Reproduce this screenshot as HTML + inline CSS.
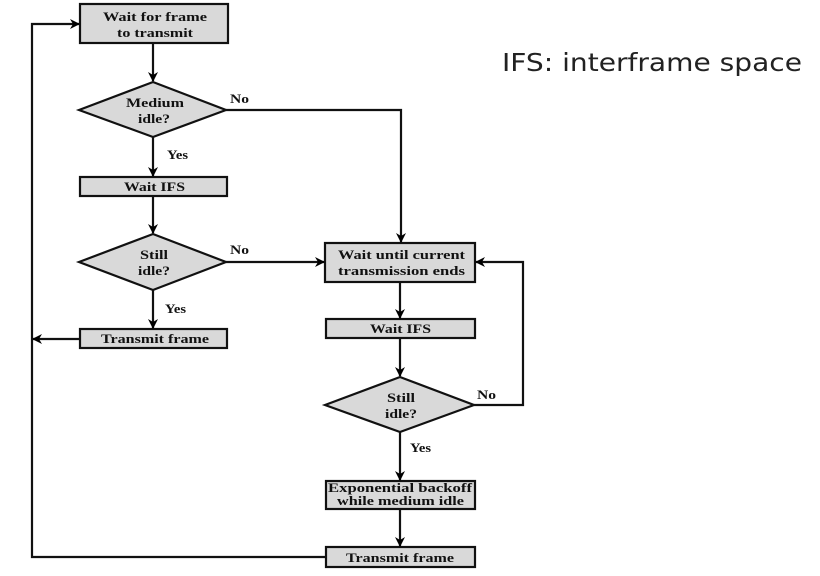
<!DOCTYPE html>
<html><head><style>
html,body{margin:0;padding:0;background:#fff;width:820px;height:576px;overflow:hidden}
svg text{font-family:"Liberation Serif",serif;font-weight:bold;font-size:13px;fill:#111}
</style></head><body>
<svg width="820" height="576" viewBox="0 0 820 576" xmlns="http://www.w3.org/2000/svg">
<defs>
<marker id="a" markerWidth="10" markerHeight="10" refX="9" refY="5" orient="auto" markerUnits="userSpaceOnUse">
<path d="M0,0 L10,5 L0,10 L3,5 z" fill="#000"/></marker>
</defs>
<g stroke="#111" stroke-width="2.2" fill="#d9d9d9">
<rect x="80" y="4" width="148" height="39"/>
<polygon points="79,110 153,82 226,110 153,137"/>
<rect x="80" y="177" width="147" height="19"/>
<polygon points="79,262 153,234 226,262 153,290"/>
<rect x="80" y="329" width="147" height="19"/>
<rect x="325" y="243" width="150" height="39"/>
<rect x="326" y="319" width="149" height="19"/>
<polygon points="325,405 400,377 474,405 400,432"/>
<rect x="326" y="481" width="149" height="28"/>
<rect x="326" y="547" width="149" height="20"/>
</g>
<g stroke="#111" stroke-width="2.2" fill="none">
<line x1="153" y1="43" x2="153" y2="81" marker-end="url(#a)"/>
<line x1="153" y1="137" x2="153" y2="176" marker-end="url(#a)"/>
<line x1="153" y1="196" x2="153" y2="233" marker-end="url(#a)"/>
<line x1="153" y1="290" x2="153" y2="328" marker-end="url(#a)"/>
<line x1="80" y1="339" x2="33" y2="339" marker-end="url(#a)"/>
<polyline points="326,557 32,557 32,24 79,24" marker-end="url(#a)"/>
<polyline points="226,110 401,110 401,242" marker-end="url(#a)"/>
<line x1="226" y1="262" x2="324" y2="262" marker-end="url(#a)"/>
<line x1="400" y1="282" x2="400" y2="318" marker-end="url(#a)"/>
<line x1="400" y1="338" x2="400" y2="376" marker-end="url(#a)"/>
<polyline points="474,405 523,405 523,262 476,262" marker-end="url(#a)"/>
<line x1="400" y1="432" x2="400" y2="480" marker-end="url(#a)"/>
<line x1="400" y1="509" x2="400" y2="546" marker-end="url(#a)"/>
</g>
<g>
<text x="103" y="21" textLength="104" lengthAdjust="spacingAndGlyphs">Wait for frame</text>
<text x="117" y="37" textLength="76" lengthAdjust="spacingAndGlyphs">to transmit</text>
<text x="126" y="107" textLength="58" lengthAdjust="spacingAndGlyphs">Medium</text>
<text x="138" y="123" textLength="32" lengthAdjust="spacingAndGlyphs">idle?</text>
<text x="124" y="191" textLength="61" lengthAdjust="spacingAndGlyphs">Wait IFS</text>
<text x="140" y="259" textLength="28" lengthAdjust="spacingAndGlyphs">Still</text>
<text x="138" y="275" textLength="32" lengthAdjust="spacingAndGlyphs">idle?</text>
<text x="101" y="343" textLength="108" lengthAdjust="spacingAndGlyphs">Transmit frame</text>
<text x="338" y="259" textLength="127" lengthAdjust="spacingAndGlyphs">Wait until current</text>
<text x="338" y="275" textLength="127" lengthAdjust="spacingAndGlyphs">transmission ends</text>
<text x="370" y="333" textLength="61" lengthAdjust="spacingAndGlyphs">Wait IFS</text>
<text x="387" y="402" textLength="28" lengthAdjust="spacingAndGlyphs">Still</text>
<text x="385" y="418" textLength="32" lengthAdjust="spacingAndGlyphs">idle?</text>
<text x="328" y="492" textLength="144" lengthAdjust="spacingAndGlyphs">Exponential backoff</text>
<text x="337" y="505" textLength="127" lengthAdjust="spacingAndGlyphs">while medium idle</text>
<text x="346" y="562" textLength="108" lengthAdjust="spacingAndGlyphs">Transmit frame</text>
</g>
<text x="230" y="103" textLength="19" lengthAdjust="spacingAndGlyphs">No</text>
<text x="167" y="159" textLength="21" lengthAdjust="spacingAndGlyphs">Yes</text>
<text x="230" y="254" textLength="19" lengthAdjust="spacingAndGlyphs">No</text>
<text x="165" y="313" textLength="21" lengthAdjust="spacingAndGlyphs">Yes</text>
<text x="477" y="399" textLength="19" lengthAdjust="spacingAndGlyphs">No</text>
<text x="410" y="452" textLength="21" lengthAdjust="spacingAndGlyphs">Yes</text>
<text x="502" y="71" style="font-family:'DejaVu Sans','Liberation Sans',sans-serif;font-weight:normal;font-size:25px;fill:#222" textLength="300" lengthAdjust="spacingAndGlyphs">IFS: interframe space</text>
</svg>
</body></html>
